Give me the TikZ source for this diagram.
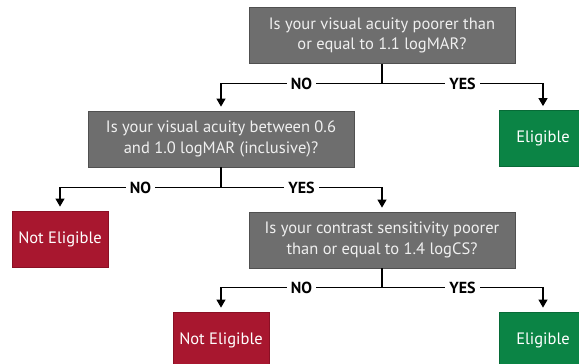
\documentclass[tikz,border=0pt]{standalone}
\usepackage{fontspec}
\setmainfont{PT Sans}
\usetikzlibrary{arrows.meta, positioning, calc}
\definecolor{qgray}{HTML}{6E6E6E}
\definecolor{qedge}{HTML}{505050}
\definecolor{noRed}{HTML}{A8172F}
\definecolor{noEdge}{HTML}{8A1024}
\definecolor{okGreen}{HTML}{0B8445}
\definecolor{okEdge}{HTML}{076B37}

\begin{document}
\begin{tikzpicture}[
  x=1pt, y=-1pt,
  question/.style={rectangle, draw=qedge, line width=0.8pt, fill=qgray,
    minimum width=266pt, minimum height=56pt, text=white!94!black,
    align=center, font=\fontsize{16.5}{20.5}\selectfont},
  verdict/.style={rectangle, line width=0.8pt, minimum height=56pt,
    text=white, font=\fontsize{16.5}{18}\selectfont},
  noel/.style={verdict, draw=noEdge, fill=noRed, minimum width=96pt},
  okel/.style={verdict, draw=okEdge, fill=okGreen, minimum width=88pt},
  >={Triangle[length=8pt, width=9pt]},
  arr/.style={draw=black, line width=1.1pt, ->, shorten >=4pt},
  stem/.style={draw=black, line width=1.1pt},
  lbl/.style={fill=white, inner xsep=4pt, inner ysep=1pt,
    font=\fontsize{16}{18}\selectfont\bfseries},
]

% Frame
\clip (0,0) rectangle (579,364);
\fill[white] (0,0) rectangle (579,364);

\node[question] (q1) at (382,35.5)
  {Is your visual acuity poorer than\\or equal to 1.1 logMAR?};
\node[question] (q2) at (221,139)
  {Is your visual acuity between 0.6\\and 1.0 logMAR (inclusive)?};
\node[question] (q3) at (382,240)
  {Is your contrast sensitivity poorer\\than or equal to 1.4 logCS?};

\node[okel] (ok1) at (543,138.5) {Eligible};
\node[noel] (no1) at (60,239) {Not Eligible};
\node[noel] (no2) at (221,340) {Not Eligible};
\node[okel] (ok2) at (543,340) {Eligible};

% Branches
\draw[stem] (q1.south) -- ++(0,20) coordinate (j1);
\draw[arr] (j1) -| node[lbl, pos=0.25] {NO} (q2.north);
\draw[arr] (j1) -| node[lbl, pos=0.25] {YES} (ok1.north);

\draw[stem] (q2.south) -- ++(0,20) coordinate (j2);
\draw[arr] (j2) -| node[lbl, pos=0.25] {NO} (no1.north);
\draw[arr] (j2) -| node[lbl, pos=0.25] {YES} (q3.north);

\draw[stem] (q3.south) -- ++(0,19) coordinate (j3);
\draw[arr] (j3) -| node[lbl, pos=0.25] {NO} (no2.north);
\draw[arr] (j3) -| node[lbl, pos=0.25] {YES} (ok2.north);
\end{tikzpicture}
\end{document}
